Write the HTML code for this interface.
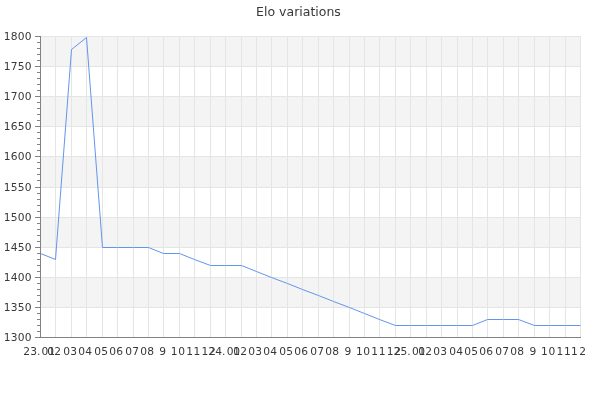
<!DOCTYPE html><html><head><meta charset="utf-8"><title>Elo variations</title><style>html,body{margin:0;padding:0;background:#fff}svg{display:block}text{font-family:"DejaVu Sans","Liberation Sans",sans-serif;fill:#383838}</style></head><body>
<svg width="600" height="400" viewBox="0 0 600 400">
<rect width="600" height="400" fill="#fff"/>
<g shape-rendering="crispEdges">
<rect x="41" y="36" width="540" height="30" fill="#f4f4f4"/>
<rect x="41" y="96" width="540" height="30" fill="#f4f4f4"/>
<rect x="41" y="156" width="540" height="31" fill="#f4f4f4"/>
<rect x="41" y="217" width="540" height="30" fill="#f4f4f4"/>
<rect x="41" y="277" width="540" height="30" fill="#f4f4f4"/>
<rect x="41" y="36" width="540" height="1" fill="#e5e5e5"/>
<rect x="41" y="66" width="540" height="1" fill="#e5e5e5"/>
<rect x="41" y="96" width="540" height="1" fill="#e5e5e5"/>
<rect x="41" y="126" width="540" height="1" fill="#e5e5e5"/>
<rect x="41" y="156" width="540" height="1" fill="#e5e5e5"/>
<rect x="41" y="187" width="540" height="1" fill="#e5e5e5"/>
<rect x="41" y="217" width="540" height="1" fill="#e5e5e5"/>
<rect x="41" y="247" width="540" height="1" fill="#e5e5e5"/>
<rect x="41" y="277" width="540" height="1" fill="#e5e5e5"/>
<rect x="41" y="307" width="540" height="1" fill="#e5e5e5"/>
<rect x="55" y="36" width="1" height="301" fill="#e5e5e5"/>
<rect x="71" y="36" width="1" height="301" fill="#e5e5e5"/>
<rect x="86" y="36" width="1" height="301" fill="#e5e5e5"/>
<rect x="102" y="36" width="1" height="301" fill="#e5e5e5"/>
<rect x="117" y="36" width="1" height="301" fill="#e5e5e5"/>
<rect x="133" y="36" width="1" height="301" fill="#e5e5e5"/>
<rect x="148" y="36" width="1" height="301" fill="#e5e5e5"/>
<rect x="163" y="36" width="1" height="301" fill="#e5e5e5"/>
<rect x="179" y="36" width="1" height="301" fill="#e5e5e5"/>
<rect x="194" y="36" width="1" height="301" fill="#e5e5e5"/>
<rect x="210" y="36" width="1" height="301" fill="#e5e5e5"/>
<rect x="225" y="36" width="1" height="301" fill="#e5e5e5"/>
<rect x="241" y="36" width="1" height="301" fill="#e5e5e5"/>
<rect x="256" y="36" width="1" height="301" fill="#e5e5e5"/>
<rect x="271" y="36" width="1" height="301" fill="#e5e5e5"/>
<rect x="287" y="36" width="1" height="301" fill="#e5e5e5"/>
<rect x="302" y="36" width="1" height="301" fill="#e5e5e5"/>
<rect x="318" y="36" width="1" height="301" fill="#e5e5e5"/>
<rect x="333" y="36" width="1" height="301" fill="#e5e5e5"/>
<rect x="349" y="36" width="1" height="301" fill="#e5e5e5"/>
<rect x="364" y="36" width="1" height="301" fill="#e5e5e5"/>
<rect x="379" y="36" width="1" height="301" fill="#e5e5e5"/>
<rect x="395" y="36" width="1" height="301" fill="#e5e5e5"/>
<rect x="410" y="36" width="1" height="301" fill="#e5e5e5"/>
<rect x="426" y="36" width="1" height="301" fill="#e5e5e5"/>
<rect x="441" y="36" width="1" height="301" fill="#e5e5e5"/>
<rect x="457" y="36" width="1" height="301" fill="#e5e5e5"/>
<rect x="472" y="36" width="1" height="301" fill="#e5e5e5"/>
<rect x="487" y="36" width="1" height="301" fill="#e5e5e5"/>
<rect x="503" y="36" width="1" height="301" fill="#e5e5e5"/>
<rect x="518" y="36" width="1" height="301" fill="#e5e5e5"/>
<rect x="534" y="36" width="1" height="301" fill="#e5e5e5"/>
<rect x="549" y="36" width="1" height="301" fill="#e5e5e5"/>
<rect x="565" y="36" width="1" height="301" fill="#e5e5e5"/>
<rect x="580" y="36" width="1" height="301" fill="#e5e5e5"/>
</g>
<polyline points="40.5,253.5 55.5,259.5 71.5,49.5 86.5,37.5 102.5,247.5 117.5,247.5 133.5,247.5 148.5,247.5 163.5,253.5 179.5,253.5 194.5,259.5 210.5,265.5 225.5,265.5 241.5,265.5 256.5,271.5 271.5,277.5 287.5,283.5 302.5,289.5 318.5,295.5 333.5,301.5 349.5,307.5 364.5,313.5 379.5,319.5 395.5,325.5 410.5,325.5 426.5,325.5 441.5,325.5 457.5,325.5 472.5,325.5 487.5,319.5 503.5,319.5 518.5,319.5 534.5,325.5 549.5,325.5 565.5,325.5 580.5,325.5" fill="none" stroke="#6495ed" stroke-width="1"/>
<g shape-rendering="crispEdges">
<rect x="40" y="36" width="1" height="302" fill="#828282"/>
<rect x="40" y="337" width="541" height="1" fill="#828282"/>
<rect x="35" y="36" width="5" height="1" fill="#828282"/>
<rect x="37" y="42" width="3" height="1" fill="#828282"/>
<rect x="37" y="48" width="3" height="1" fill="#828282"/>
<rect x="37" y="54" width="3" height="1" fill="#828282"/>
<rect x="37" y="60" width="3" height="1" fill="#828282"/>
<rect x="35" y="66" width="5" height="1" fill="#828282"/>
<rect x="37" y="72" width="3" height="1" fill="#828282"/>
<rect x="37" y="78" width="3" height="1" fill="#828282"/>
<rect x="37" y="84" width="3" height="1" fill="#828282"/>
<rect x="37" y="90" width="3" height="1" fill="#828282"/>
<rect x="35" y="96" width="5" height="1" fill="#828282"/>
<rect x="37" y="102" width="3" height="1" fill="#828282"/>
<rect x="37" y="108" width="3" height="1" fill="#828282"/>
<rect x="37" y="114" width="3" height="1" fill="#828282"/>
<rect x="37" y="120" width="3" height="1" fill="#828282"/>
<rect x="35" y="126" width="5" height="1" fill="#828282"/>
<rect x="37" y="132" width="3" height="1" fill="#828282"/>
<rect x="37" y="138" width="3" height="1" fill="#828282"/>
<rect x="37" y="144" width="3" height="1" fill="#828282"/>
<rect x="37" y="150" width="3" height="1" fill="#828282"/>
<rect x="35" y="156" width="5" height="1" fill="#828282"/>
<rect x="37" y="162" width="3" height="1" fill="#828282"/>
<rect x="37" y="168" width="3" height="1" fill="#828282"/>
<rect x="37" y="174" width="3" height="1" fill="#828282"/>
<rect x="37" y="180" width="3" height="1" fill="#828282"/>
<rect x="35" y="187" width="5" height="1" fill="#828282"/>
<rect x="37" y="193" width="3" height="1" fill="#828282"/>
<rect x="37" y="199" width="3" height="1" fill="#828282"/>
<rect x="37" y="205" width="3" height="1" fill="#828282"/>
<rect x="37" y="211" width="3" height="1" fill="#828282"/>
<rect x="35" y="217" width="5" height="1" fill="#828282"/>
<rect x="37" y="223" width="3" height="1" fill="#828282"/>
<rect x="37" y="229" width="3" height="1" fill="#828282"/>
<rect x="37" y="235" width="3" height="1" fill="#828282"/>
<rect x="37" y="241" width="3" height="1" fill="#828282"/>
<rect x="35" y="247" width="5" height="1" fill="#828282"/>
<rect x="37" y="253" width="3" height="1" fill="#828282"/>
<rect x="37" y="259" width="3" height="1" fill="#828282"/>
<rect x="37" y="265" width="3" height="1" fill="#828282"/>
<rect x="37" y="271" width="3" height="1" fill="#828282"/>
<rect x="35" y="277" width="5" height="1" fill="#828282"/>
<rect x="37" y="283" width="3" height="1" fill="#828282"/>
<rect x="37" y="289" width="3" height="1" fill="#828282"/>
<rect x="37" y="295" width="3" height="1" fill="#828282"/>
<rect x="37" y="301" width="3" height="1" fill="#828282"/>
<rect x="35" y="307" width="5" height="1" fill="#828282"/>
<rect x="37" y="313" width="3" height="1" fill="#828282"/>
<rect x="37" y="319" width="3" height="1" fill="#828282"/>
<rect x="37" y="325" width="3" height="1" fill="#828282"/>
<rect x="37" y="331" width="3" height="1" fill="#828282"/>
<rect x="35" y="337" width="5" height="1" fill="#828282"/>
</g>
<text x="298.5" y="16" font-size="12.5" text-anchor="middle">Elo variations</text>
<text x="3.8 10.8 17.8 24.8" y="40" font-size="10.67">1800</text>
<text x="3.8 10.8 17.8 24.8" y="70" font-size="10.67">1750</text>
<text x="3.8 10.8 17.8 24.8" y="100" font-size="10.67">1700</text>
<text x="3.8 10.8 17.8 24.8" y="130" font-size="10.67">1650</text>
<text x="3.8 10.8 17.8 24.8" y="160" font-size="10.67">1600</text>
<text x="3.8 10.8 17.8 24.8" y="191" font-size="10.67">1550</text>
<text x="3.8 10.8 17.8 24.8" y="221" font-size="10.67">1500</text>
<text x="3.8 10.8 17.8 24.8" y="251" font-size="10.67">1450</text>
<text x="3.8 10.8 17.8 24.8" y="281" font-size="10.67">1400</text>
<text x="3.8 10.8 17.8 24.8" y="311" font-size="10.67">1350</text>
<text x="3.8 10.8 17.8 24.8" y="341" font-size="10.67">1300</text>
<text x="23.2 30.2 36.9 41.6 48.2" y="355" font-size="10.67">23.01</text>
<text x="47.3 54.3" y="355" font-size="10.67">02</text>
<text x="63.3 70.3" y="355" font-size="10.67">03</text>
<text x="78.3 85.3" y="355" font-size="10.67">04</text>
<text x="94.3 101.3" y="355" font-size="10.67">05</text>
<text x="109.3 116.3" y="355" font-size="10.67">06</text>
<text x="125.3 132.3" y="355" font-size="10.67">07</text>
<text x="140.3 147.3" y="355" font-size="10.67">08</text>
<text x="162.6" y="355" font-size="10.67" text-anchor="middle">9</text>
<text x="170.8 178.2" y="355" font-size="10.67">10</text>
<text x="186.2 193.6" y="355" font-size="10.67">11</text>
<text x="201.6 209.0" y="355" font-size="10.67">12</text>
<text x="208.3 215.3 222.0 226.7 233.3" y="355" font-size="10.67">24.01</text>
<text x="233.3 240.3" y="355" font-size="10.67">02</text>
<text x="248.3 255.3" y="355" font-size="10.67">03</text>
<text x="263.3 270.3" y="355" font-size="10.67">04</text>
<text x="279.3 286.3" y="355" font-size="10.67">05</text>
<text x="294.3 301.3" y="355" font-size="10.67">06</text>
<text x="310.3 317.3" y="355" font-size="10.67">07</text>
<text x="325.3 332.3" y="355" font-size="10.67">08</text>
<text x="347.8" y="355" font-size="10.67" text-anchor="middle">9</text>
<text x="355.9 363.3" y="355" font-size="10.67">10</text>
<text x="371.3 378.7" y="355" font-size="10.67">11</text>
<text x="386.8 394.2" y="355" font-size="10.67">12</text>
<text x="393.5 400.5 407.2 411.9 418.5" y="355" font-size="10.67">25.01</text>
<text x="418.3 425.3" y="355" font-size="10.67">02</text>
<text x="433.3 440.3" y="355" font-size="10.67">03</text>
<text x="449.3 456.3" y="355" font-size="10.67">04</text>
<text x="464.3 471.3" y="355" font-size="10.67">05</text>
<text x="479.3 486.3" y="355" font-size="10.67">06</text>
<text x="495.3 502.3" y="355" font-size="10.67">07</text>
<text x="510.3 517.3" y="355" font-size="10.67">08</text>
<text x="532.9" y="355" font-size="10.67" text-anchor="middle">9</text>
<text x="541.1 548.4" y="355" font-size="10.67">10</text>
<text x="556.5 563.9" y="355" font-size="10.67">11</text>
<text x="571.0 579.3" y="355" font-size="10.67">12</text>
</svg></body></html>
